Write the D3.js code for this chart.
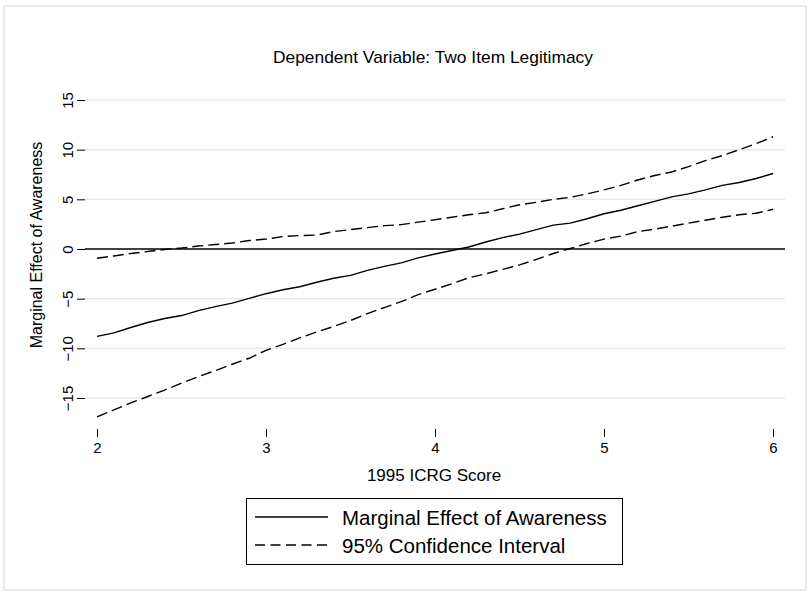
<!DOCTYPE html>
<html>
<head>
<meta charset="utf-8">
<script src="https://cdn.jsdelivr.net/npm/d3@7"></script>
<style>
  html, body { margin: 0; padding: 0; background: #fff; }
  svg { display: block; font-family: "Liberation Sans", Arial, sans-serif; }
</style>
</head>
<body>
<div id="chart"></div>
<script>
// ICRG score grid (x)
const icrg = [2.0, 2.1, 2.2, 2.3, 2.4, 2.5, 2.6, 2.7, 2.8, 2.9,
              3.0, 3.1, 3.2, 3.3, 3.4, 3.5, 3.6, 3.7, 3.8, 3.9,
              4.0, 4.1, 4.2, 4.3, 4.4, 4.5, 4.6, 4.7, 4.8, 4.9,
              5.0, 5.1, 5.2, 5.3, 5.4, 5.5, 5.6, 5.7, 5.8, 5.9, 6.0];

// marginal effect of awareness
const effect = [-8.8, -8.45, -7.9, -7.4, -7.0, -6.7, -6.2, -5.8, -5.45, -4.97,
                -4.5, -4.1, -3.8, -3.35, -2.95, -2.65, -2.15, -1.75, -1.4, -0.9,
                -0.5, -0.15, 0.2, 0.7, 1.15, 1.5, 1.95, 2.4, 2.6, 3.05,
                3.55, 3.9, 4.35, 4.8, 5.25, 5.55, 5.95, 6.4, 6.7, 7.1, 7.6];

// 95% CI bounds
const upper = [-0.93, -0.7, -0.45, -0.25, -0.05, 0.1, 0.3, 0.45, 0.6, 0.85,
               1.0, 1.25, 1.35, 1.4, 1.75, 1.95, 2.15, 2.35, 2.45, 2.7,
               2.95, 3.2, 3.45, 3.65, 4.05, 4.45, 4.7, 5.0, 5.2, 5.55,
               5.95, 6.4, 6.95, 7.4, 7.75, 8.3, 8.9, 9.4, 10.0, 10.6, 11.3];

const lower = [-16.9, -16.2, -15.5, -14.85, -14.2, -13.5, -12.85, -12.25, -11.6, -11.0,
               -10.2, -9.6, -8.95, -8.35, -7.8, -7.2, -6.5, -5.9, -5.3, -4.6,
               -4.05, -3.5, -2.9, -2.5, -2.05, -1.6, -1.05, -0.45, 0.05, 0.55,
               1.0, 1.3, 1.75, 2.0, 2.3, 2.6, 2.9, 3.2, 3.45, 3.6, 4.0];

const xTicks = [2, 3, 4, 5, 6];
const yTicks = [-15, -10, -5, 0, 5, 10, 15];
const legendLabels = ["Marginal Effect of Awareness", "95% Confidence Interval"];

const W = 809, H = 592;
const plot = { left: 85, right: 785, top: 90, bottom: 425 };

const svg = d3.select("#chart").append("svg")
  .attr("width", W)
  .attr("height", H);

// outer frame
svg.append("rect")
  .attr("x", 4).attr("y", 6)
  .attr("width", 802).attr("height", 584)
  .attr("fill", "#fff")
  .attr("stroke", "#ebebeb")
  .attr("stroke-width", 2);

const x = d3.scaleLinear().domain([2, 6]).range([97, 773]);
const y = d3.scaleLinear().domain([-15, 15]).range([398, 100]);

// gridlines
svg.selectAll("line.grid")
  .data(yTicks.filter(d => d !== 0))
  .enter().append("line")
  .attr("class", "grid")
  .attr("x1", plot.left).attr("x2", plot.right)
  .attr("y1", d => y(d)).attr("y2", d => y(d))
  .attr("stroke", "#e9e9e9")
  .attr("stroke-width", 1.5);

// zero reference line
svg.append("line")
  .attr("x1", plot.left).attr("x2", plot.right)
  .attr("y1", y(0)).attr("y2", y(0))
  .attr("stroke", "#000")
  .attr("stroke-width", 1.3);

// y axis (ticks + rotated labels, no domain line)
const yAxis = svg.append("g")
  .attr("transform", `translate(${plot.left},0)`)
  .call(d3.axisLeft(y).tickValues(yTicks).tickSize(8).tickPadding(0).tickFormat(d3.format("d")))
  .call(g => g.select(".domain").remove());
yAxis.selectAll(".tick line").attr("stroke", "#000").attr("stroke-width", 1);
yAxis.selectAll(".tick text")
  .attr("x", null).attr("dy", null)
  .attr("transform", "translate(-18,0) rotate(-90)")
  .attr("text-anchor", "middle")
  .attr("dominant-baseline", "central")
  .style("font-size", "15px")
  .style("font-family", "Liberation Sans, Arial, sans-serif")
  .attr("fill", "#000");

// x axis
const xAxis = svg.append("g")
  .attr("transform", `translate(0,${plot.bottom + 4})`)
  .call(d3.axisBottom(x).tickValues(xTicks).tickSize(8).tickPadding(5).tickFormat(d3.format("d")))
  .call(g => g.select(".domain").remove());
xAxis.selectAll(".tick line").attr("stroke", "#000").attr("stroke-width", 1);
xAxis.selectAll(".tick text")
  .style("font-size", "15px")
  .style("font-family", "Liberation Sans, Arial, sans-serif")
  .attr("fill", "#000");

// lines
const line = vals => d3.line()
  .x((d, i) => x(icrg[i]))
  .y(d => y(d))(vals);

svg.append("path")
  .attr("d", line(upper))
  .attr("fill", "none").attr("stroke", "#000")
  .attr("stroke-width", 1.4)
  .attr("stroke-dasharray", "11,5");

svg.append("path")
  .attr("d", line(lower))
  .attr("fill", "none").attr("stroke", "#000")
  .attr("stroke-width", 1.4)
  .attr("stroke-dasharray", "11,5");

svg.append("path")
  .attr("d", line(effect))
  .attr("fill", "none").attr("stroke", "#000")
  .attr("stroke-width", 1.4);

// titles
svg.append("text")
  .attr("x", 433).attr("y", 57)
  .attr("text-anchor", "middle")
  .attr("dominant-baseline", "central")
  .attr("textLength", 320)
  .attr("lengthAdjust", "spacingAndGlyphs")
  .style("font-size", "17px")
  .text("Dependent Variable: Two Item Legitimacy");

svg.append("text")
  .attr("x", 434).attr("y", 475)
  .attr("text-anchor", "middle")
  .attr("dominant-baseline", "central")
  .style("font-size", "17px")
  .text("1995 ICRG Score");

svg.append("text")
  .attr("transform", "translate(36,245) rotate(-90)")
  .attr("text-anchor", "middle")
  .attr("dominant-baseline", "central")
  .style("font-size", "16px")
  .text("Marginal Effect of Awareness");

// legend
const lg = svg.append("g");
lg.append("rect")
  .attr("x", 246.5).attr("y", 498.5)
  .attr("width", 376).attr("height", 66)
  .attr("fill", "#fff").attr("stroke", "#000").attr("stroke-width", 1);

const rows = lg.selectAll("g.row")
  .data(legendLabels)
  .enter().append("g")
  .attr("class", "row")
  .attr("transform", (d, i) => `translate(0,${517 + i * 28})`);

rows.append("line")
  .attr("x1", 255).attr("x2", 328)
  .attr("y1", 0).attr("y2", 0)
  .attr("stroke", "#000").attr("stroke-width", 1.3)
  .attr("stroke-dasharray", (d, i) => i === 1 ? "10,5.5" : null);

rows.append("text")
  .attr("x", 342).attr("y", 0)
  .attr("dominant-baseline", "central")
  .style("font-size", "20.5px")
  .text(d => d);
</script>
</body>
</html>
